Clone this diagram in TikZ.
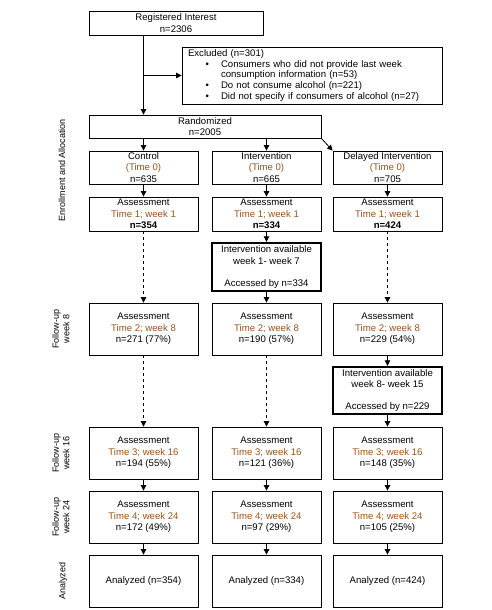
\documentclass[tikz,border=0pt]{standalone}
\usepackage{fontspec}
\setmainfont{Liberation Sans}
\usetikzlibrary{arrows.meta}
\definecolor{timebrown}{RGB}{150,82,28}
\newcommand{\tm}[1]{\textcolor{timebrown}{#1}}
\newcommand{\excitem}[1]{\makebox[33pt][r]{\textbullet\hspace{12pt}}#1}

\begin{document}
\begin{tikzpicture}[x=1pt,y=-1pt,>={Triangle[width=5.5pt,length=5.5pt]}]
        \tikzstyle{stage}=[draw,line width=0.8pt,align=center,inner sep=0pt,minimum width=109pt,minimum height=52pt,font=\fontsize{9.6}{11.5}\selectfont]
        \tikzstyle{access}=[stage,line width=2.4pt,minimum height=47pt]
        \tikzstyle{edge}=[draw,->,line width=0.8pt]
        \tikzstyle{gap}=[edge,dashed]
        \tikzstyle{phase}=[rotate=90,align=center,font=\fontsize{9}{10.5}\selectfont]
        \useasboundingbox (0,0) rectangle (491,610);

        % enrolment
        \node [stage,minimum width=174pt,minimum height=24pt] (reg) at (176,23) {Registered Interest\\n=2306};
        \node [stage,minimum width=260pt,minimum height=57pt,text width=248pt,align=left,font=\fontsize{9.6}{10.9}\selectfont] (excl) at (312,75.5)
          {Excluded (n=301)\\
           \excitem{Consumers who did not provide last week}\\
           \hspace*{33pt}consumption information (n=53)\\
           \excitem{Do not consume alcohol (n=221)}\\
           \excitem{Did not specify if consumers of alcohol (n=27)}};
        \node [stage,minimum width=232pt,minimum height=23pt] (rand) at (205,126.5) {Randomized\\n=2005};

        % allocation, time 0
        \node [stage,minimum height=33pt] (ctrl0) at (143.5,167.5) {Control\\\tm{(Time 0)}\\n=635};
        \node [stage,minimum height=33pt] (int0) at (266.5,167.5) {Intervention\\\tm{(Time 0)}\\n=665};
        \node [stage,minimum height=33pt] (del0) at (387.5,167.5) {Delayed Intervention\\\tm{(Time 0)}\\n=705};

        % time 1
        \node [stage,minimum height=34pt] (ctrl1) at (143.5,214) {Assessment\\\tm{Time 1; week 1}\\\textbf{n=354}};
        \node [stage,minimum height=34pt] (int1) at (266.5,214) {Assessment\\\tm{Time 1; week 1}\\\textbf{n=334}};
        \node [stage,minimum height=34pt] (del1) at (387.5,214) {Assessment\\\tm{Time 1; week 1}\\\textbf{n=424}};

        \node [access,minimum height=48pt] (intacc) at (266.5,267) {Intervention available\\week 1- week 7\\[10.5pt]Accessed by n=334};

        % time 2
        \node [stage] (ctrl2) at (143.5,329) {Assessment\\\tm{Time 2; week 8}\\n=271 (77\%)};
        \node [stage] (int2) at (266.5,329) {Assessment\\\tm{Time 2; week 8}\\n=190 (57\%)};
        \node [stage] (del2) at (387.5,329) {Assessment\\\tm{Time 2; week 8}\\n=229 (54\%)};

        \node [access] (delacc) at (387.5,390.5) {Intervention available\\week 8- week 15\\[10.5pt]Accessed by n=229};

        % time 3
        \node [stage] (ctrl3) at (143.5,453) {Assessment\\\tm{Time 3; week 16}\\n=194 (55\%)};
        \node [stage] (int3) at (266.5,453) {Assessment\\\tm{Time 3; week 16}\\n=121 (36\%)};
        \node [stage] (del3) at (387.5,453) {Assessment\\\tm{Time 3; week 16}\\n=148 (35\%)};

        % time 4
        \node [stage] (ctrl4) at (143.5,517) {Assessment\\\tm{Time 4; week 24}\\n=172 (49\%)};
        \node [stage] (int4) at (266.5,517) {Assessment\\\tm{Time 4; week 24}\\n=97 (29\%)};
        \node [stage] (del4) at (387.5,517) {Assessment\\\tm{Time 4; week 24}\\n=105 (25\%)};

        % analysed
        \node [stage] (ctrl5) at (143.5,581) {Analyzed (n=354)};
        \node [stage] (int5) at (266.5,581) {Analyzed (n=334)};
        \node [stage] (del5) at (387.5,581) {Analyzed (n=424)};

        % phase labels
        \node [phase] (ph0) at (62,170) {Enrollment and Allocation};
        \node [phase] (ph1) at (61,329) {Follow-up\\week 8};
        \node [phase] (ph2) at (61,453) {Follow-up\\week 16};
        \node [phase] (ph3) at (61,517) {Follow-up\\week 24};
        \node [phase] (ph4) at (63,581) {Analyzed};

        \path[edge] (reg.south -| ctrl0.north) -- (rand.north -| ctrl0.north);
        \path[edge] (reg.south -| ctrl0.north) |- (excl.west);
        \path[edge] (rand.south -| ctrl0.north) -- (ctrl0.north);
        \path[edge] (rand.south -| int0.north) -- (int0.north);
        \path[edge] (rand.south east) -- (del0.north west);

        \path[edge] (ctrl0) -- (ctrl1);
        \path[edge] (int0) -- (int1);
        \path[edge] (del0) -- (del1);

        \path[gap] (ctrl1) -- (ctrl2);
        \path[edge] (int1) -- (intacc);
        \path[edge] (intacc) -- (int2);
        \path[gap] (del1) -- (del2);

        \path[gap] (ctrl2) -- (ctrl3);
        \path[gap] (int2) -- (int3);
        \path[edge] (del2) -- (delacc);
        \path[edge] (delacc) -- (del3);

        \path[edge] (ctrl3) -- (ctrl4);
        \path[edge] (int3) -- (int4);
        \path[edge] (del3) -- (del4);

        \path[edge] (ctrl4) -- (ctrl5);
        \path[edge] (int4) -- (int5);
        \path[edge] (del4) -- (del5);
      \end{tikzpicture}
\end{document}
